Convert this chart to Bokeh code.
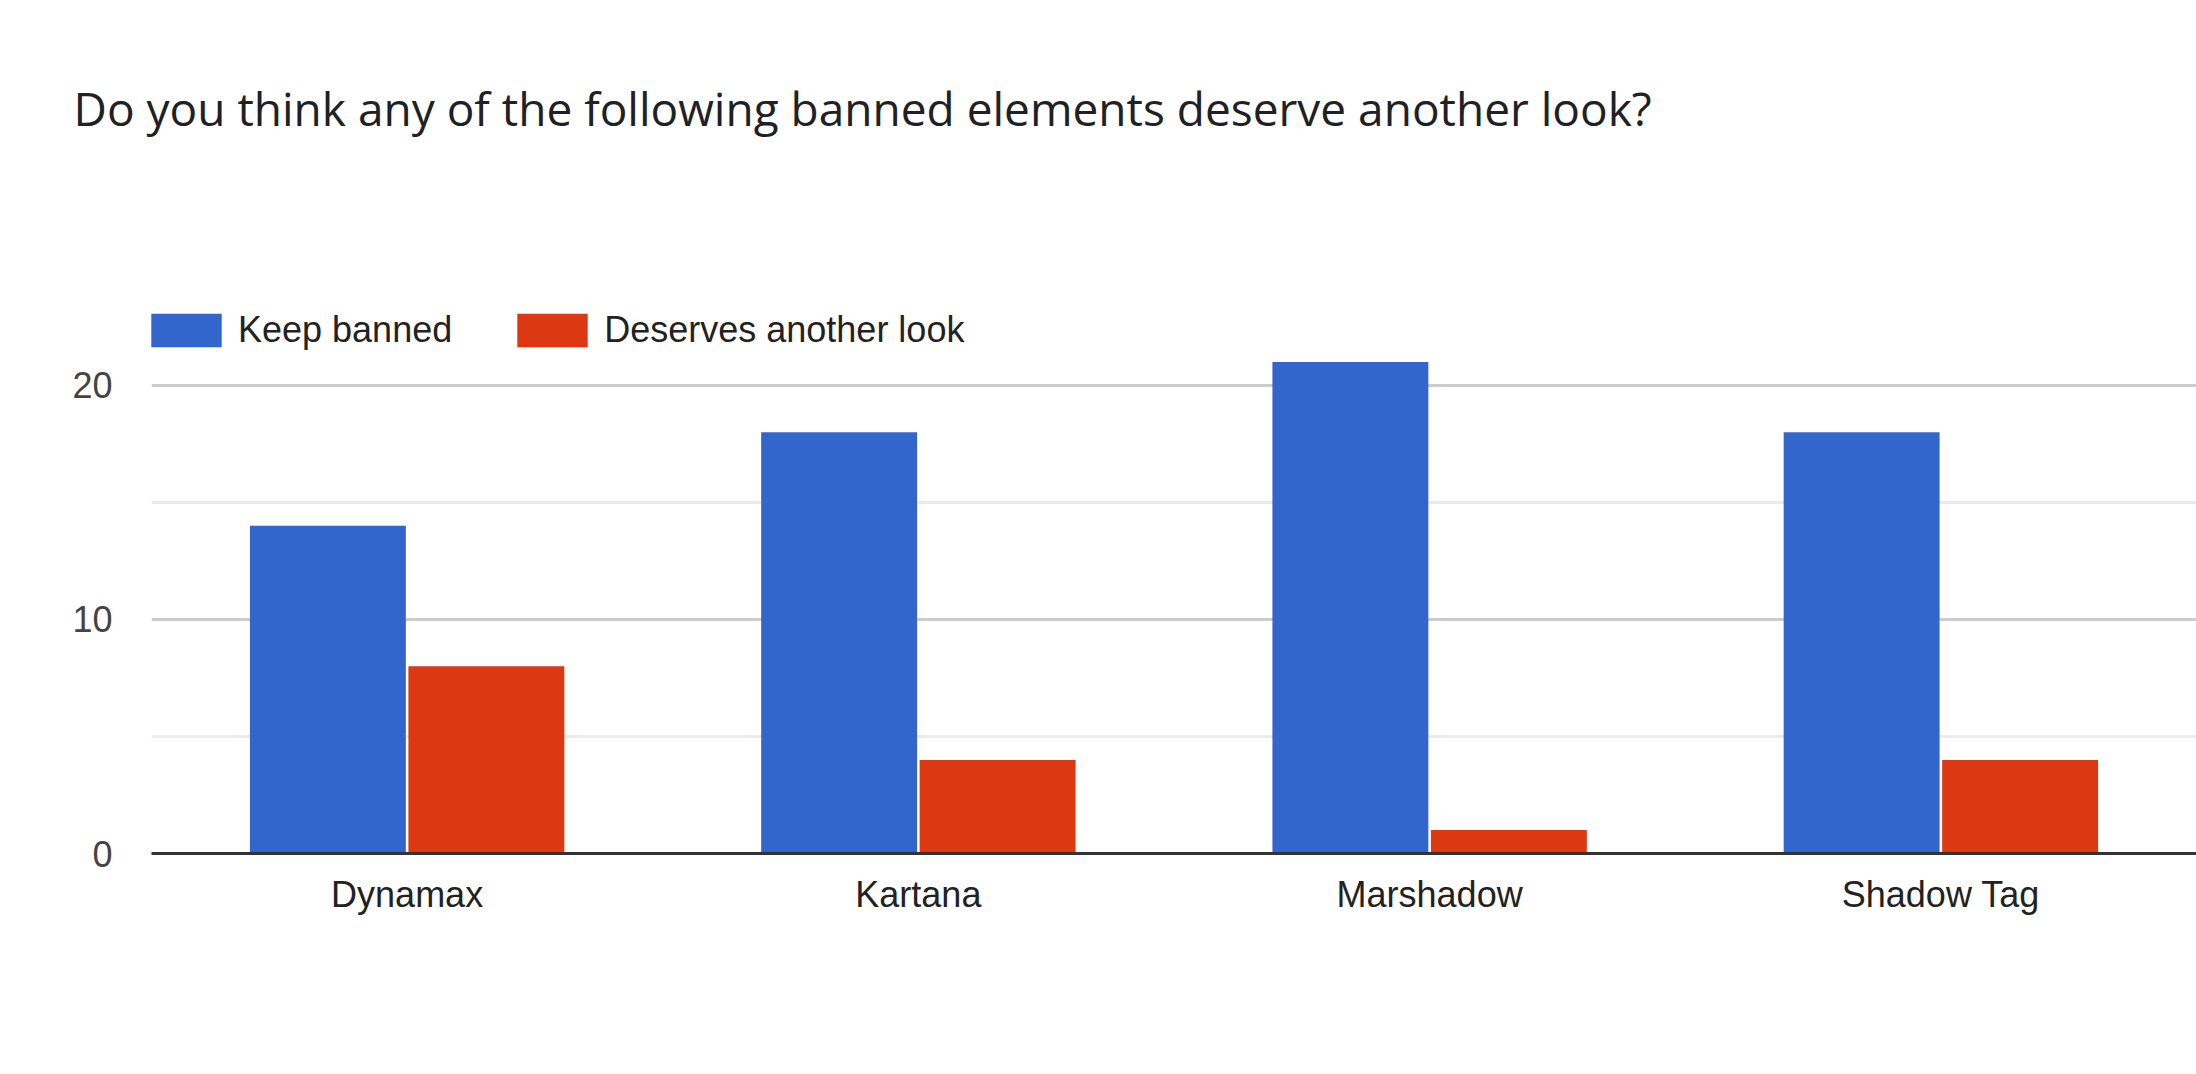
from bokeh.plotting import figure
from bokeh.models import FactorRange, Range1d, FixedTicker, Legend, LegendItem, ColumnDataSource
from bokeh.transform import dodge
from bokeh.embed import file_html
from bokeh.resources import INLINE

title_text = "Do you think any of the following banned elements deserve another look?"
categories = ["Dynamax", "Kartana", "Marshadow", "Shadow Tag"]
series_names = ["Keep banned", "Deserves another look"]
keep_banned = [14, 18, 21, 18]
another_look = [8, 4, 1, 4]
y_major_ticks = [0, 10, 20]
y_minor_ticks = [5, 15]

BLUE = "#3366cc"
RED = "#dc3912"

src = ColumnDataSource(dict(cat=categories, keep=keep_banned, look=another_look))

p = figure(width=2196, height=1074, output_backend="svg", toolbar_location=None,
           x_range=FactorRange(factors=categories, range_padding=0),
           y_range=Range1d(0, 30.04),
           min_border_left=151, min_border_right=0, min_border_top=150, min_border_bottom=221)
p.outline_line_color = None
p.background_fill_color = "white"
p.border_fill_color = "white"

p.title.text = title_text
p.title.align = "left"
p.title.offset = -78
p.title.standoff = 23
p.title.text_font = "Open Sans"
p.title.text_font_style = "normal"
p.title.text_font_size = "46px"
p.title.text_color = "#202124"

r1 = p.vbar(x=dodge("cat", -0.155, range=p.x_range), top="keep", bottom=0, width=0.305,
            source=src, fill_color=BLUE, line_color=None)
r2 = p.vbar(x=dodge("cat", 0.155, range=p.x_range), top="look", bottom=0, width=0.305,
            source=src, fill_color=RED, line_color=None)

# axes
p.xaxis.axis_line_color = "#333333"
p.xaxis.axis_line_width = 3
p.xaxis.major_tick_line_color = None
p.xaxis.minor_tick_line_color = None
p.xaxis.major_label_text_font = "Liberation Sans"
p.xaxis.major_label_text_font_size = "36px"
p.xaxis.major_label_text_color = "#222222"
p.xaxis.major_label_standoff = 14

p.yaxis.ticker = FixedTicker(ticks=y_major_ticks, minor_ticks=y_minor_ticks)
p.yaxis.axis_line_color = None
p.yaxis.major_tick_line_color = None
p.yaxis.minor_tick_line_color = None
p.yaxis.major_label_text_font = "Liberation Sans"
p.yaxis.major_label_text_font_size = "36px"
p.yaxis.major_label_text_color = "#444444"
p.yaxis.major_label_standoff = 33

p.xgrid.grid_line_color = None
p.ygrid.grid_line_color = "#cccccc"
p.ygrid.grid_line_width = 3
p.ygrid.minor_grid_line_color = "#ebebeb"
p.ygrid.minor_grid_line_width = 3

legend = Legend(items=[LegendItem(label=series_names[0], renderers=[r1]),
                       LegendItem(label=series_names[1], renderers=[r2])],
                orientation="horizontal", location=(-9, 502),
                glyph_width=88, glyph_height=42, label_height=42,
                label_standoff=8, spacing=56, padding=0, margin=0,
                border_line_color=None, background_fill_alpha=0,
                label_text_font="Liberation Sans", label_text_font_size="36px",
                label_text_color="#222222")
p.add_layout(legend, "center")

open("out.html", "w").write(file_html(p, INLINE))
